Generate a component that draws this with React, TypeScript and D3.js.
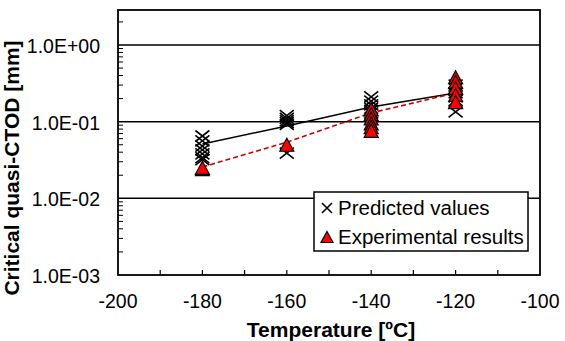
import React from 'react'
import * as d3 from 'd3'

// temperatures [ºC] where both series were measured
const temps = [-180, -160, -140, -120]

// predicted critical quasi-CTOD [mm], one list per temperature
const predicted = [
  [0.065, 0.056, 0.048, 0.043, 0.038, 0.034, 0.032],
  [0.12, 0.11, 0.103, 0.097, 0.092, 0.039],
  [0.21, 0.185, 0.165, 0.15, 0.14, 0.13],
  [0.3, 0.27, 0.24, 0.21, 0.19, 0.134],
]

// experimental critical quasi-CTOD [mm]
const experimental = [
  [0.024, 0.025],
  [0.05],
  [0.145, 0.125, 0.11, 0.095, 0.085, 0.076],
  [0.38, 0.33, 0.275, 0.223, 0.18],
]

// trend lines through the two series
const predictedTrend = [0.051, 0.088, 0.155, 0.237]
const experimentalTrend = [0.0256, 0.054, 0.13, 0.237]

const xTicks = [-200, -180, -160, -140, -120, -100]
const yTicks = [1e-3, 1e-2, 1e-1, 1]

const W = 565
const H = 341
const left = 118, right = 540, top = 10, bottom = 275
const font = '"Liberation Sans", Arial, sans-serif'

function sci(v: number) {
  const e = Math.round(Math.log10(v))
  const s = e < 0 ? '-' : '+'
  return '1.0E' + s + String(Math.abs(e)).padStart(2, '0')
}

const cross = (w: number, h: number) => `M${-w},${-h}L${w},${h}M${-w},${h}L${w},${-h}`
const tri = (w: number, h: number) => `M0,${-h}L${w},${h}L${-w},${h}Z`

export default function App() {
  const x = d3.scaleLinear().domain([-200, -100]).range([left, right])
  const y = d3.scaleLog().domain([1e-3, 2.86]).range([bottom, top])

  const minor: number[] = []
  for (let e = -3; e <= 0; e++) {
    for (let m = 2; m <= 9; m++) {
      const v = m * Math.pow(10, e)
      if (v <= 2.86) minor.push(v)
    }
  }
  const xMinor = d3.range(-190, -100, 10)

  const line = d3.line<number>().x((d, i) => x(temps[i])).y(d => y(d))

  return (
    <svg width={W} height={H} style={{ position: 'absolute', left: 0, top: 0, background: '#fff' }}>
      {yTicks.slice(1).map(t => (
        <line key={t} x1={left} x2={right} y1={y(t)} y2={y(t)} stroke="#000" strokeWidth={1.5} />
      ))}
      {minor.map(v => (
        <line key={'m' + v} x1={left} x2={left + 5} y1={y(v)} y2={y(v)} stroke="#000" strokeWidth={1} />
      ))}
      {xMinor.map(t => (
        <line key={'x' + t} x1={x(t)} x2={x(t)} y1={bottom} y2={bottom - 5} stroke="#000" strokeWidth={1.2} />
      ))}
      <rect x={left} y={top} width={right - left} height={bottom - top} fill="none" stroke="#000" strokeWidth={1.8} />

      <path d={line(predictedTrend) || ''} fill="none" stroke="#000" strokeWidth={1.5} />
      <path d={line(experimentalTrend) || ''} fill="none" stroke="#cc0000" strokeWidth={1.6} strokeDasharray="5,3" />

      {predicted.map((vals, i) =>
        vals.map((v, j) => (
          <path key={'p' + i + j} d={cross(7, 5.5)} transform={`translate(${x(temps[i])},${y(v)})`}
            stroke="#000" strokeWidth={1.6} fill="none" />
        ))
      )}
      {experimental.map((vals, i) =>
        vals.map((v, j) => (
          <path key={'e' + i + j} d={tri(7, 6.5)} transform={`translate(${x(temps[i])},${y(v)})`}
            stroke="#000" strokeWidth={1.2} fill="#ff0000" />
        ))
      )}

      {yTicks.map(t => (
        <text key={'yl' + t} x={100} y={y(t) + 1} textAnchor="end" dominantBaseline="central"
          fontFamily={font} fontSize={19.5}>{sci(t)}</text>
      ))}
      {xTicks.map(t => (
        <text key={'xl' + t} x={x(t)} y={308} textAnchor="middle" fontFamily={font} fontSize={19.5}>{t}</text>
      ))}
      <text x={(left + right) / 2 + 2} y={337} textAnchor="middle" fontFamily={font} fontSize={21} fontWeight="bold">
        Temperature [ºC]
      </text>
      <text transform="translate(19,168) rotate(-90)" textAnchor="middle" fontFamily={font} fontSize={21} fontWeight="bold">
        Critical quasi-CTOD [mm]
      </text>

      <g>
        <rect x={314} y={192} width={214} height={59} fill="#fff" stroke="#000" strokeWidth={1.5} />
        <path d={cross(5, 5)} transform="translate(327,208)" stroke="#000" strokeWidth={1.6} fill="none" />
        <text x={338} y={215} fontFamily={font} fontSize={20.5}>Predicted values</text>
        <path d={tri(6, 5.5)} transform="translate(327,237)" stroke="#000" strokeWidth={1.2} fill="#ff0000" />
        <text x={338} y={244} fontFamily={font} fontSize={20.5}>Experimental results</text>
      </g>
    </svg>
  )
}
